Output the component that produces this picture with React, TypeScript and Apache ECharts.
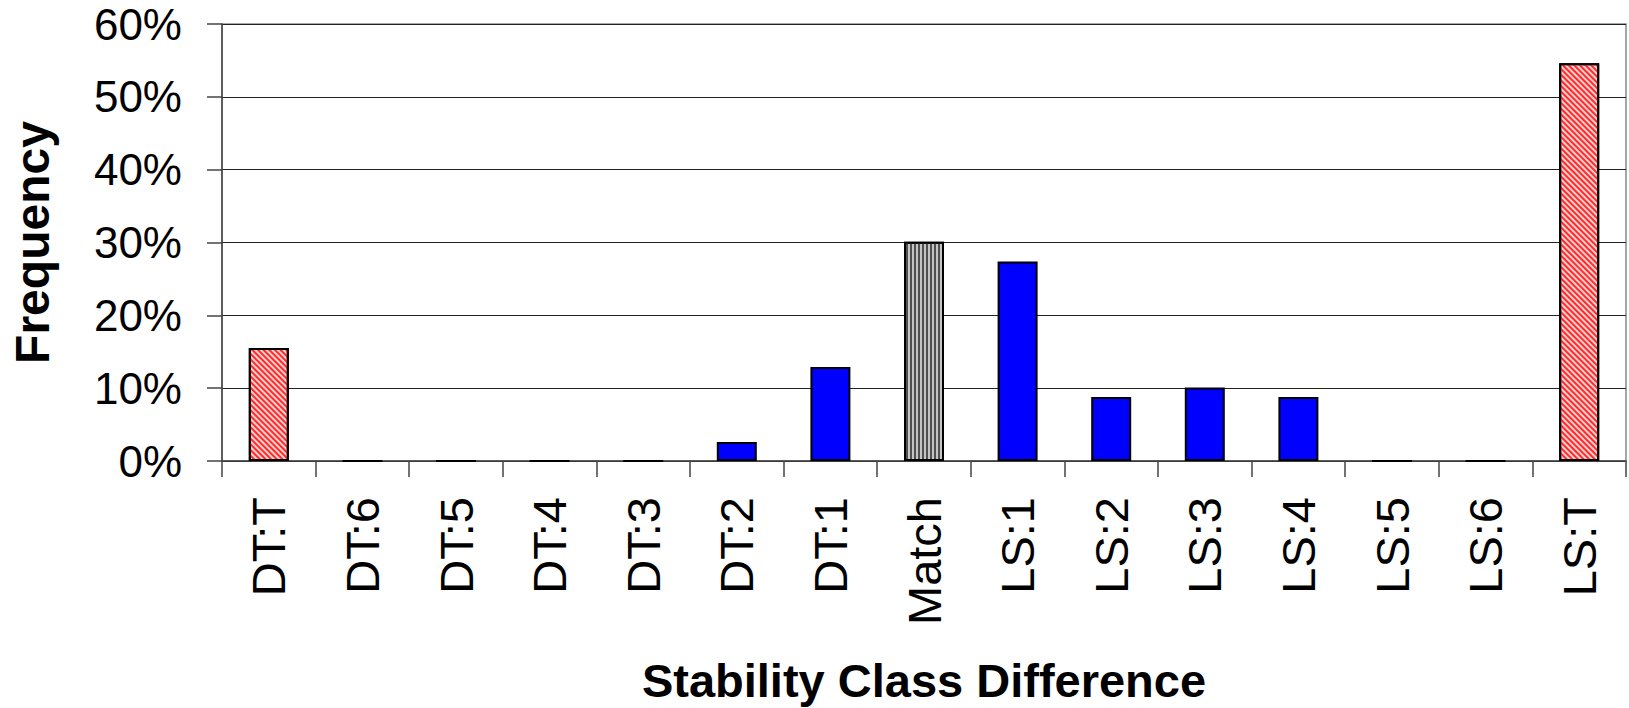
import React, { useEffect, useRef } from "react";
import * as echarts from "echarts";

// Stability class difference categories and their frequencies (%)
const categories = [
  "DT:T", "DT:6", "DT:5", "DT:4", "DT:3", "DT:2", "DT:1", "Match",
  "LS:1", "LS:2", "LS:3", "LS:4", "LS:5", "LS:6", "LS:T",
];
const frequency = [15.5, 0, 0, 0, 0, 2.6, 12.9, 30.1, 27.4, 8.8, 10.1, 8.8, 0, 0, 54.6];
// fill style per category: "total" = hatched red, "match" = striped grey, "step" = solid blue
const fillKind = [
  "total", "step", "step", "step", "step", "step", "step", "match",
  "step", "step", "step", "step", "step", "step", "total",
];
const yTicks = { min: 0, max: 60, interval: 10 };

const FONT = "'Liberation Sans', Arial, Helvetica, sans-serif";

function styleFor(kind: string) {
  if (kind === "total") {
    return {
      color: "#ffd0d0",
      borderColor: "#000",
      borderWidth: 2,
      decal: {
        symbol: "rect",
        symbolSize: 1,
        color: "#ff2a2a",
        dashArrayX: [[4, 0]],
        dashArrayY: [1.6, 1.3],
        rotation: Math.PI / 4,
      },
    };
  }
  if (kind === "match") {
    return {
      color: "#c4c4c4",
      borderColor: "#000",
      borderWidth: 2,
      decal: {
        symbol: "rect",
        symbolSize: 1,
        color: "#505050",
        dashArrayX: [[4, 0]],
        dashArrayY: [1.3, 1.7],
        rotation: Math.PI / 2,
      },
    };
  }
  return { color: "#0000ff", borderColor: "#000", borderWidth: 2 };
}

export default function App() {
  const ref = useRef<HTMLDivElement>(null);

  useEffect(() => {
    if (!ref.current) return;
    const chart = echarts.init(ref.current, undefined, { renderer: "svg" });
    chart.setOption({
      animation: false,
      backgroundColor: "#ffffff",
      grid: {
        left: 222,
        right: 3,
        top: 24,
        bottom: 247,
        outerBoundsMode: "none",
        containLabel: false,
        show: true,
        borderColor: "#8a8a8a",
        borderWidth: 1.5,
        backgroundColor: "transparent",
      },
      xAxis: {
        type: "category",
        data: categories,
        boundaryGap: true,
        name: "Stability Class Difference",
        nameLocation: "middle",
        nameGap: 196,
        nameTextStyle: { fontFamily: FONT, fontSize: 47, fontWeight: "bold", color: "#000" },
        axisLine: { show: true, lineStyle: { color: "#444", width: 1.5 } },
        axisTick: { show: true, length: 16, alignWithLabel: false, lineStyle: { color: "#444", width: 1.5 } },
        axisLabel: {
          rotate: 90,
          margin: 36,
          interval: 0,
          fontFamily: FONT,
          fontSize: 47,
          color: "#000",
        },
        splitLine: { show: false },
      },
      yAxis: {
        type: "value",
        min: yTicks.min,
        max: yTicks.max,
        interval: yTicks.interval,
        name: "Frequency",
        nameLocation: "middle",
        nameGap: 166,
        nameRotate: 90,
        nameTextStyle: { fontFamily: FONT, fontSize: 48, fontWeight: "bold", color: "#000" },
        axisLine: { show: true, lineStyle: { color: "#444", width: 1.5 } },
        axisTick: { show: true, length: 15, lineStyle: { color: "#444", width: 1.5 } },
        axisLabel: {
          margin: 40,
          fontFamily: FONT,
          fontSize: 44,
          color: "#000",
          formatter: "{value}%",
        },
        splitLine: { show: true, lineStyle: { color: "#222", width: 1 } },
      },
      series: [
        {
          type: "bar",
          barWidth: 40,
          data: frequency.map((v, i) => ({ value: v, itemStyle: styleFor(fillKind[i]) })),
        },
      ],
    });
    return () => chart.dispose();
  }, []);

  return (
    <div
      ref={ref}
      style={{ position: "fixed", left: 0, top: 0, width: 1629, height: 708, background: "#fff" }}
    />
  );
}
